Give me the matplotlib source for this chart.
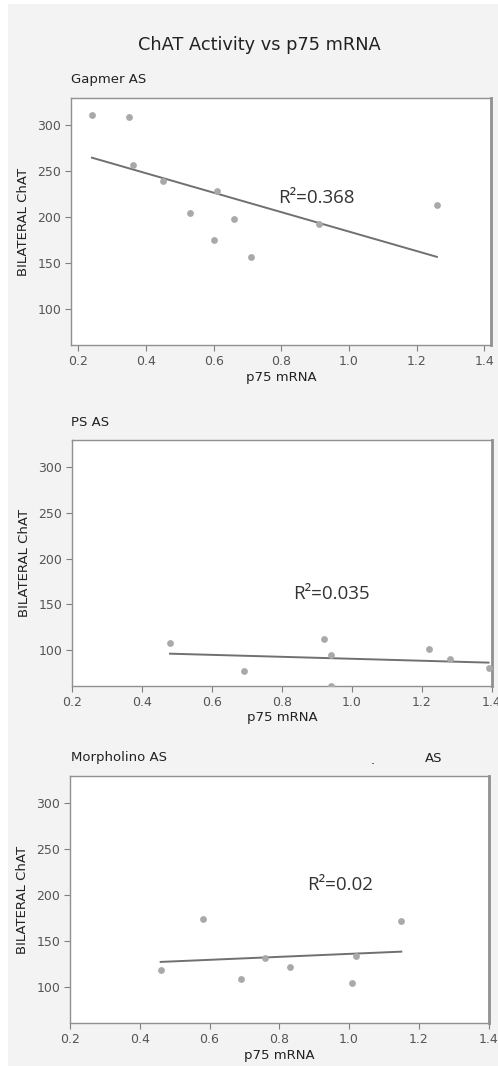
import numpy as np
import matplotlib
matplotlib.use("Agg")
import matplotlib.pyplot as plt
from matplotlib.patches import Rectangle

W, H = 498, 1066

# data
gap_x = [0.24, 0.35, 0.36, 0.45, 0.53, 0.61, 0.60, 0.66, 0.71, 0.91, 1.26]
gap_y = [311, 309, 257, 239, 205, 229, 175, 198, 156, 193, 213]

ps_x = [0.48, 0.69, 0.92, 0.94, 0.94, 1.22, 1.28, 1.39]
ps_y = [108, 77, 112, 95, 61, 101, 90, 80]

mor_x = [0.46, 0.58, 0.69, 0.76, 0.83, 1.01, 1.02, 1.15]
mor_y = [118, 174, 108, 131, 122, 104, 134, 172]

panel_names = ["Gapmer AS", "PS AS", "Morpholino AS"]
r2_labels = ["R\u00b2=0.368", "R\u00b2=0.035", "R\u00b2=0.02"]
x_ticks = [0.2, 0.4, 0.6, 0.8, 1.0, 1.2, 1.4]
x_ticklabels = ["0.2", "0.4", "0.6", "0.8", "1.0", "1.2", "1.4"]
y_ticks = [100, 150, 200, 250, 300]


def fx(px):
    return px / W


def fy(py):
    return 1 - py / H


def make_axes(fig, left, right, top, bottom):
    return fig.add_axes([fx(left), fy(bottom), (right - left) / W, (bottom - top) / H])


def draw_panel(ax, xs, ys, xlim, r2, r2_pos):
    ax.set_facecolor("white")
    ax.scatter(xs, ys, s=24, color="#a9a9a9", zorder=3, clip_on=True, linewidths=0)
    slope, icpt = np.polyfit(xs, ys, 1)
    xl = np.array([min(xs), max(xs)])
    ax.plot(xl, slope * xl + icpt, color="#707070", lw=1.4, zorder=2)
    ax.set_xlim(*xlim)
    ax.set_ylim(60.5, 330)
    ax.set_xticks(x_ticks)
    ax.set_xticklabels(x_ticklabels)
    ax.set_yticks(y_ticks)
    ax.tick_params(direction="out", length=4, width=0.8, color="#808080",
                   labelcolor="#555555", labelsize=9, pad=3)
    for side, sp in ax.spines.items():
        sp.set_color("#909090")
        sp.set_linewidth(1.0)
    ax.spines["right"].set_linewidth(2.0)
    ax.set_xlabel("p75 mRNA", fontsize=9.5, color="#222222", labelpad=2)
    ax.set_ylabel("BILATERAL ChAT", fontsize=9.5, color="#222222", labelpad=5)
    ax.text(r2_pos[0], r2_pos[1], r2, fontsize=13.5, family=["Open Sans", "DejaVu Sans"],
            color="#333333", va="center", ha="left")


def main():
    fig = plt.figure(figsize=(W / 100, H / 100), dpi=100)
    fig.patch.set_facecolor("white")
    # light gray panel behind everything
    bg = Rectangle((fx(8), 0), 1 - fx(8), fy(4), transform=fig.transFigure,
                   facecolor="#f3f3f3", edgecolor="none", zorder=-10)
    fig.add_artist(bg)

    fig.text(fx(259), fy(45), "ChAT Activity vs p75 mRNA", fontsize=12.8,
             color="#222222", ha="center", va="center")

    ax1 = make_axes(fig, 71, 491, 98, 345)
    draw_panel(ax1, gap_x, gap_y, (0.178, 1.42), r2_labels[0], (0.79, 221))
    ax2 = make_axes(fig, 72, 492, 440, 686)
    draw_panel(ax2, ps_x, ps_y, (0.2, 1.4), r2_labels[1], (0.833, 161))
    ax3 = make_axes(fig, 70, 488.5, 776, 1023)
    draw_panel(ax3, mor_x, mor_y, (0.2, 1.4), r2_labels[2], (0.881, 211))

    for name, y in zip(panel_names, [79, 422, 757]):
        fig.text(fx(71), fy(y), name, fontsize=9.5, color="#222222", ha="left", va="center")
    fig.text(fx(373), fy(761), ".", fontsize=9.5, color="#222222", ha="center", va="center")
    fig.text(fx(425), fy(758), "AS", fontsize=9.5, color="#222222", ha="left", va="center")

    fig.savefig("out.png", dpi=100, facecolor=fig.get_facecolor())


if __name__ == '__main__':
    main()
